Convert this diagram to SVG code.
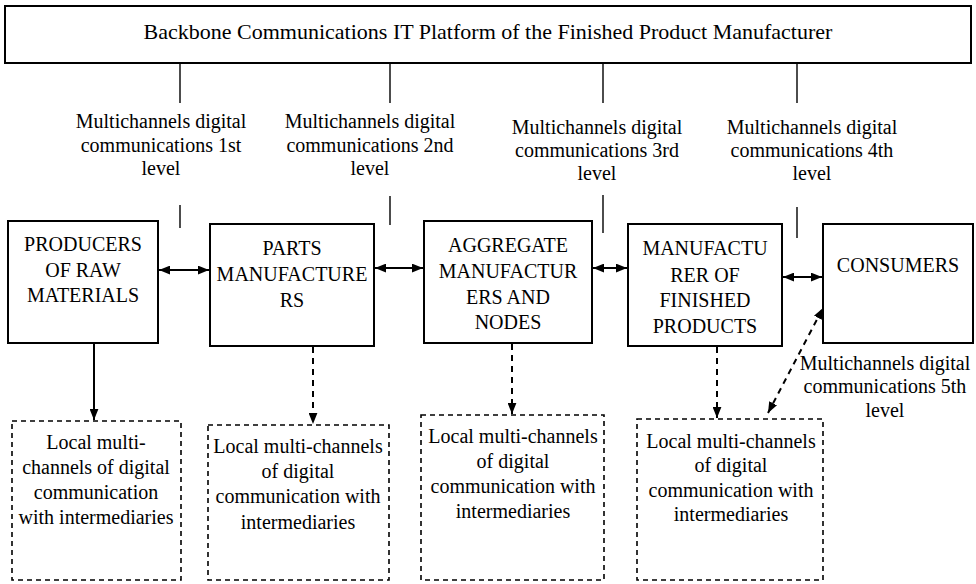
<svg xmlns="http://www.w3.org/2000/svg" width="976" height="584" viewBox="0 0 976 584">
<style>
text{font-family:"Liberation Serif","Times New Roman",serif;fill:#000;text-anchor:middle}
.t20{font-size:20px}
.t22{font-size:22px}
.box{fill:#fff;stroke:#000;stroke-width:2}
.dbox{fill:#fff;stroke:#000;stroke-width:1.6;stroke-dasharray:5,4}
.ln{fill:none;stroke:#000;stroke-width:1.4}
.ar{fill:none;stroke:#000;stroke-width:2}
.da{fill:none;stroke:#000;stroke-width:2;stroke-dasharray:6,5}
</style>
<defs>
<marker id="ah" viewBox="0 0 10 8" refX="10" refY="4" markerWidth="11" markerHeight="9" markerUnits="userSpaceOnUse" orient="auto-start-reverse">
<path d="M0,0 L10,4 L0,8 Z" fill="#000"/>
</marker>
</defs>
<rect width="976" height="584" fill="#fff"/>
<g id="platform">
<rect class="box" x="5" y="6" width="966" height="57"/>
<text class="t22" x="488" y="39">Backbone Communications IT Platform of the Finished Product Manufacturer</text>
</g>
<g id="connectors">
<line class="ln" x1="180" y1="63" x2="180" y2="103"/>
<line class="ln" x1="180" y1="205" x2="180" y2="228"/>
<line class="ln" x1="390" y1="63" x2="390" y2="103"/>
<line class="ln" x1="390" y1="196" x2="390" y2="225"/>
<line class="ln" x1="603" y1="63" x2="603" y2="103"/>
<line class="ln" x1="603" y1="195" x2="603" y2="233"/>
<line class="ln" x1="797" y1="63" x2="797" y2="103"/>
<line class="ln" x1="797" y1="207" x2="797" y2="238"/>
<line class="ar" x1="159" y1="270" x2="209" y2="270" marker-start="url(#ah)" marker-end="url(#ah)"/>
<line class="ar" x1="375" y1="268" x2="423" y2="268" marker-start="url(#ah)" marker-end="url(#ah)"/>
<line class="ar" x1="593" y1="268" x2="627" y2="268" marker-start="url(#ah)" marker-end="url(#ah)"/>
<line class="ar" x1="783" y1="277" x2="822" y2="277" marker-start="url(#ah)" marker-end="url(#ah)"/>
<line class="ar" x1="94" y1="344" x2="94" y2="420" marker-end="url(#ah)"/>
<line class="da" x1="313" y1="347" x2="313" y2="424" marker-end="url(#ah)"/>
<line class="da" x1="512" y1="344" x2="512" y2="414" marker-end="url(#ah)"/>
<line class="da" x1="717" y1="347" x2="717" y2="418" marker-end="url(#ah)"/>
<line class="da" x1="768" y1="413" x2="823" y2="308" marker-start="url(#ah)" marker-end="url(#ah)"/>
</g>
<g id="label1">
<text class="t20" x="161" y="128">Multichannels digital</text>
<text class="t20" x="161" y="152">communications 1st</text>
<text class="t20" x="161" y="175">level</text>
</g>
<g id="label2">
<text class="t20" x="370" y="128">Multichannels digital</text>
<text class="t20" x="370" y="152">communications 2nd</text>
<text class="t20" x="370" y="175">level</text>
</g>
<g id="label3">
<text class="t20" x="597" y="134">Multichannels digital</text>
<text class="t20" x="597" y="157">communications 3rd</text>
<text class="t20" x="597" y="180">level</text>
</g>
<g id="label4">
<text class="t20" x="812" y="134">Multichannels digital</text>
<text class="t20" x="812" y="157">communications 4th</text>
<text class="t20" x="812" y="180">level</text>
</g>
<g id="label5">
<text class="t20" x="885" y="370">Multichannels digital</text>
<text class="t20" x="885" y="393">communications 5th</text>
<text class="t20" x="885" y="417">level</text>
</g>
<g id="producers">
<rect class="box" x="8" y="221" width="150" height="122"/>
<text class="t20" x="83" y="251">PRODUCERS</text>
<text class="t20" x="83" y="277">OF RAW</text>
<text class="t20" x="83" y="302">MATERIALS</text>
</g>
<g id="parts">
<rect class="box" x="210" y="224" width="164" height="122"/>
<text class="t20" x="292" y="255">PARTS</text>
<text class="t20" x="292" y="281">MANUFACTURE</text>
<text class="t20" x="292" y="307">RS</text>
</g>
<g id="aggregate">
<rect class="box" x="424" y="221" width="168" height="122"/>
<text class="t20" x="508" y="252">AGGREGATE</text>
<text class="t20" x="508" y="278">MANUFACTUR</text>
<text class="t20" x="508" y="304">ERS AND</text>
<text class="t20" x="508" y="329">NODES</text>
</g>
<g id="finished">
<rect class="box" x="628" y="224" width="154" height="122"/>
<text class="t20" x="705" y="255">MANUFACTU</text>
<text class="t20" x="705" y="282">RER OF</text>
<text class="t20" x="705" y="307">FINISHED</text>
<text class="t20" x="705" y="333">PRODUCTS</text>
</g>
<g id="consumers">
<rect class="box" x="823" y="224" width="150" height="119"/>
<text class="t20" x="898" y="272">CONSUMERS</text>
</g>
<g id="local1">
<rect class="dbox" x="12" y="421" width="169" height="159"/>
<text class="t20" x="96" y="449">Local multi-</text>
<text class="t20" x="96" y="474">channels of digital</text>
<text class="t20" x="96" y="499">communication</text>
<text class="t20" x="96" y="524">with intermediaries</text>
</g>
<g id="local2">
<rect class="dbox" x="208" y="425" width="181" height="155"/>
<text class="t20" x="298" y="453">Local multi-channels</text>
<text class="t20" x="298" y="478">of digital</text>
<text class="t20" x="298" y="503">communication with</text>
<text class="t20" x="298" y="529">intermediaries</text>
</g>
<g id="local3">
<rect class="dbox" x="421" y="415" width="183" height="165"/>
<text class="t20" x="513" y="443">Local multi-channels</text>
<text class="t20" x="513" y="468">of digital</text>
<text class="t20" x="513" y="493">communication with</text>
<text class="t20" x="513" y="518">intermediaries</text>
</g>
<g id="local4">
<rect class="dbox" x="637" y="419" width="186" height="161"/>
<text class="t20" x="731" y="448">Local multi-channels</text>
<text class="t20" x="731" y="472">of digital</text>
<text class="t20" x="731" y="497">communication with</text>
<text class="t20" x="731" y="521">intermediaries</text>
</g>
</svg>
